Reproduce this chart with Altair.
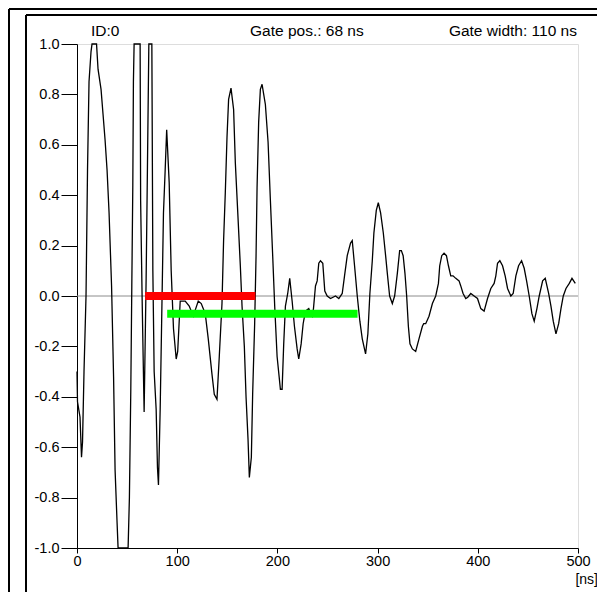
import altair as alt
import pandas as pd

# ---- waveform ----
time_ns = [0, 0.5, 3, 4.5, 5.5, 7, 9, 10.5, 12, 14, 15, 19.5, 21, 24, 26, 28, 30, 32, 34.5, 36.5,
           38, 40, 41, 51, 52.3, 53.7, 54.7, 55.7, 56.3, 57, 63, 63.5, 65, 66, 67, 69, 70.3, 71.7, 74.7, 75.7,
           77, 79, 80.3, 81.3, 83, 84.7, 86.3, 88, 89.5, 92, 94, 96.3, 99, 100.5, 103, 108, 112, 116, 121, 124,
           128, 131, 134.7, 137, 139.7, 142, 144.7, 146.3, 148, 149.7, 151.3, 153.7, 156.3, 158, 160.7, 163, 164.7, 167, 168.7, 170.7,
           172, 174, 175.3, 177.3, 178.7, 179.7, 181.3, 183, 184.7, 188, 190.7, 193, 195.3, 197.3, 199.7, 203, 204.7, 206.3, 208, 210.3,
           212.3, 214.7, 217, 219.7, 221.3, 223.7, 225.7, 228, 231.3, 234.7, 236, 238, 239.7, 241.3, 243, 245.3, 247.3, 249.7, 253, 258,
           261.3, 264.7, 267, 269.7, 273, 274.7, 277, 279.7, 282.3, 284.7, 288, 290.3, 292.3, 294.7, 296.3, 298.7, 300.7, 303, 305.7, 308,
           309.7, 312, 314.7, 317, 319.7, 322, 323.7, 325.5, 327.3, 329, 330.7, 332.3, 334.7, 338, 341.3, 344.7, 346, 348, 351.3, 354.7,
           358, 360.7, 362, 364, 366.3, 368.7, 370.7, 373, 375.3, 378, 381.3, 383, 385.3, 388, 390, 393, 396.3, 399.7, 403, 406.3,
           409.7, 413, 416.3, 418, 419.7, 422, 424.7, 427.3, 429.7, 433, 435.3, 438, 440.7, 443.7, 446.3, 448.7, 451.3, 454, 456.3, 459,
           461.3, 464.7, 467.3, 470.7, 473, 475.3, 478, 480.7, 483, 485.3, 488, 491.3, 494, 497.3]
amplitude = [-0.30, -0.42, -0.48, -0.64, -0.58, -0.30, 0.0, 0.5, 0.85, 0.97, 1.0, 1.0, 0.9, 0.82, 0.72, 0.62, 0.5, 0.33, 0.04, -0.32,
             -0.69, -0.9, -1.0, -1.0, -0.8, -0.37, 0.04, 0.44, 0.85, 1.0, 1.0, 0.38, -0.01, -0.24, -0.46, 0.07, 0.51, 1.0, 1.0, 0.1,
             -0.3, -0.45, -0.68, -0.75, -0.45, -0.05, 0.33, 0.5, 0.66, 0.45, 0.1, -0.13, -0.25, -0.22, -0.02, -0.02, -0.04, -0.08, -0.02, -0.03,
             -0.07, -0.17, -0.31, -0.39, -0.41, -0.24, -0.03, 0.22, 0.41, 0.63, 0.78, 0.825, 0.74, 0.53, 0.31, 0.12, -0.04, -0.2, -0.4, -0.57,
             -0.72, -0.64, -0.39, -0.11, 0.16, 0.43, 0.69, 0.82, 0.84, 0.76, 0.61, 0.38, 0.16, -0.04, -0.24, -0.37, -0.37, -0.19, -0.04, 0.01,
             0.07, -0.02, -0.12, -0.21, -0.25, -0.19, -0.11, -0.06, -0.05, -0.08, -0.05, 0.04, 0.06, 0.13, 0.14, 0.13, 0.02, 0.0, -0.01, 0.0,
             -0.01, 0.01, 0.08, 0.16, 0.21, 0.22, 0.12, 0.0, -0.1, -0.17, -0.23, -0.15, 0.01, 0.14, 0.25, 0.34, 0.37, 0.33, 0.25, 0.16,
             0.09, 0.0, -0.03, 0.0, 0.09, 0.18, 0.18, 0.16, 0.09, 0.0, -0.12, -0.19, -0.21, -0.22, -0.17, -0.12, -0.11, -0.11, -0.08, -0.03,
             0.0, 0.05, 0.12, 0.16, 0.17, 0.16, 0.12, 0.08, 0.08, 0.07, 0.06, 0.04, 0.01, -0.01, -0.005, 0.01, 0.0, -0.01, -0.05, -0.06,
             -0.01, 0.03, 0.05, 0.08, 0.13, 0.14, 0.12, 0.08, 0.03, 0.0, 0.01, 0.08, 0.12, 0.14, 0.11, 0.06, 0.0, -0.07, -0.1, -0.05,
             0.0, 0.06, 0.07, 0.01, -0.04, -0.1, -0.15, -0.11, -0.05, 0.0, 0.03, 0.05, 0.07, 0.05]

# ---- gate bars ----
gate_names = ["gate", "echo"]
gate_start = [68, 90]
gate_end = [178, 280]
gate_level = [0.0, -0.07]
gate_colors = ["#ff0000", "#00ff00"]

# ---- axis ticks / texts ----
y_ticks = [round(-1 + 0.1 * i, 1) for i in range(21)]
x_ticks = [0, 100, 200, 300, 400, 500]
header_texts = ["ID:0", "Gate pos.: 68 ns", "Gate width: 110 ns"]
unit_text = "[ns]"

FONT = "Liberation Sans"
W, H = 501, 504

wave = pd.DataFrame({"t": time_ns, "a": amplitude})
gates = pd.DataFrame({"name": gate_names, "start": gate_start, "end": gate_end,
                      "level": gate_level})
one = pd.DataFrame({"k": [0]})

xs = alt.Scale(domain=[0, 500], nice=False)
ys = alt.Scale(domain=[-1, 1], nice=False)

x_axis = alt.Axis(values=x_ticks, format="d", title=None, grid=False, tickSize=5,
                  labelPadding=1, labelFontSize=14.5, labelFont=FONT, labelColor="black",
                  tickColor="black", domainColor="black", labelFlush=False)
y_axis = alt.Axis(values=y_ticks, title=None, grid=False, tickSize=16, labelPadding=2,
                  labelFontSize=14.5, labelFont=FONT, labelColor="black", tickColor="black",
                  domainColor="black",
                  labelExpr="abs(round(datum.value*10)) % 2 == 0 ? (datum.value < -0.001 ? '-' : '') + format(abs(datum.value), '.1f') : ''")

zero = alt.Chart(one).mark_rule(color="#8c8c8c", strokeWidth=1).encode(
    y=alt.datum(0, scale=ys), x=alt.value(0), x2=alt.value(W))

line = alt.Chart(wave).mark_line(color="black", strokeWidth=1.3, interpolate="linear").encode(
    x=alt.X("t:Q", scale=xs, axis=x_axis),
    y=alt.Y("a:Q", scale=ys, axis=y_axis),
    order="t:Q",
)

bars = alt.Chart(gates).mark_rule(strokeWidth=8, strokeCap="butt").encode(
    x=alt.X("start:Q", scale=xs),
    x2="end:Q",
    y=alt.Y("level:Q", scale=ys),
    color=alt.Color("name:N", scale=alt.Scale(domain=gate_names, range=gate_colors), legend=None),
)

hdr_style = dict(font=FONT, fontSize=15.5, color="black", baseline="alphabetic")
h1 = alt.Chart(one).mark_text(align="left", **hdr_style).encode(
    x=alt.value(14), y=alt.value(-8), text=alt.value(header_texts[0]))
h2 = alt.Chart(one).mark_text(align="left", **hdr_style).encode(
    x=alt.value(173), y=alt.value(-8), text=alt.value(header_texts[1]))
h3 = alt.Chart(one).mark_text(align="right", **hdr_style).encode(
    x=alt.value(500), y=alt.value(-8), text=alt.value(header_texts[2]))
unit = alt.Chart(one).mark_text(align="right", font=FONT, fontSize=14, color="black",
                                baseline="alphabetic").encode(
    x=alt.value(521), y=alt.value(540), text=alt.value(unit_text))

# frames (decoration)
frame_style = dict(color="black", strokeWidth=2)
outer_left = alt.Chart(one).mark_rule(**frame_style).encode(
    x=alt.value(-68), y=alt.value(-35), y2=alt.value(560))
outer_top = alt.Chart(one).mark_rule(**frame_style).encode(
    y=alt.value(-35), x=alt.value(-68), x2=alt.value(540))
inner_left = alt.Chart(one).mark_rule(**frame_style).encode(
    x=alt.value(-51), y=alt.value(-29), y2=alt.value(549))
inner_top = alt.Chart(one).mark_rule(**frame_style).encode(
    y=alt.value(-29), x=alt.value(-51), x2=alt.value(540))
inner_bottom = alt.Chart(one).mark_rule(**frame_style).encode(
    y=alt.value(549), x=alt.value(-51), x2=alt.value(540))

chart = alt.layer(
    zero, line, bars, h1, h2, h3, unit,
    outer_left, outer_top, inner_left, inner_top, inner_bottom,
).properties(
    width=W, height=H,
    autosize=alt.AutoSizeParams(type="none"),
    padding={"left": 69, "top": 36, "right": 19, "bottom": 44},
).configure_view(
    stroke="black", strokeWidth=1.5
).configure(background="white")

chart.save("out.html", embed_options={"renderer": "svg", "actions": False})
